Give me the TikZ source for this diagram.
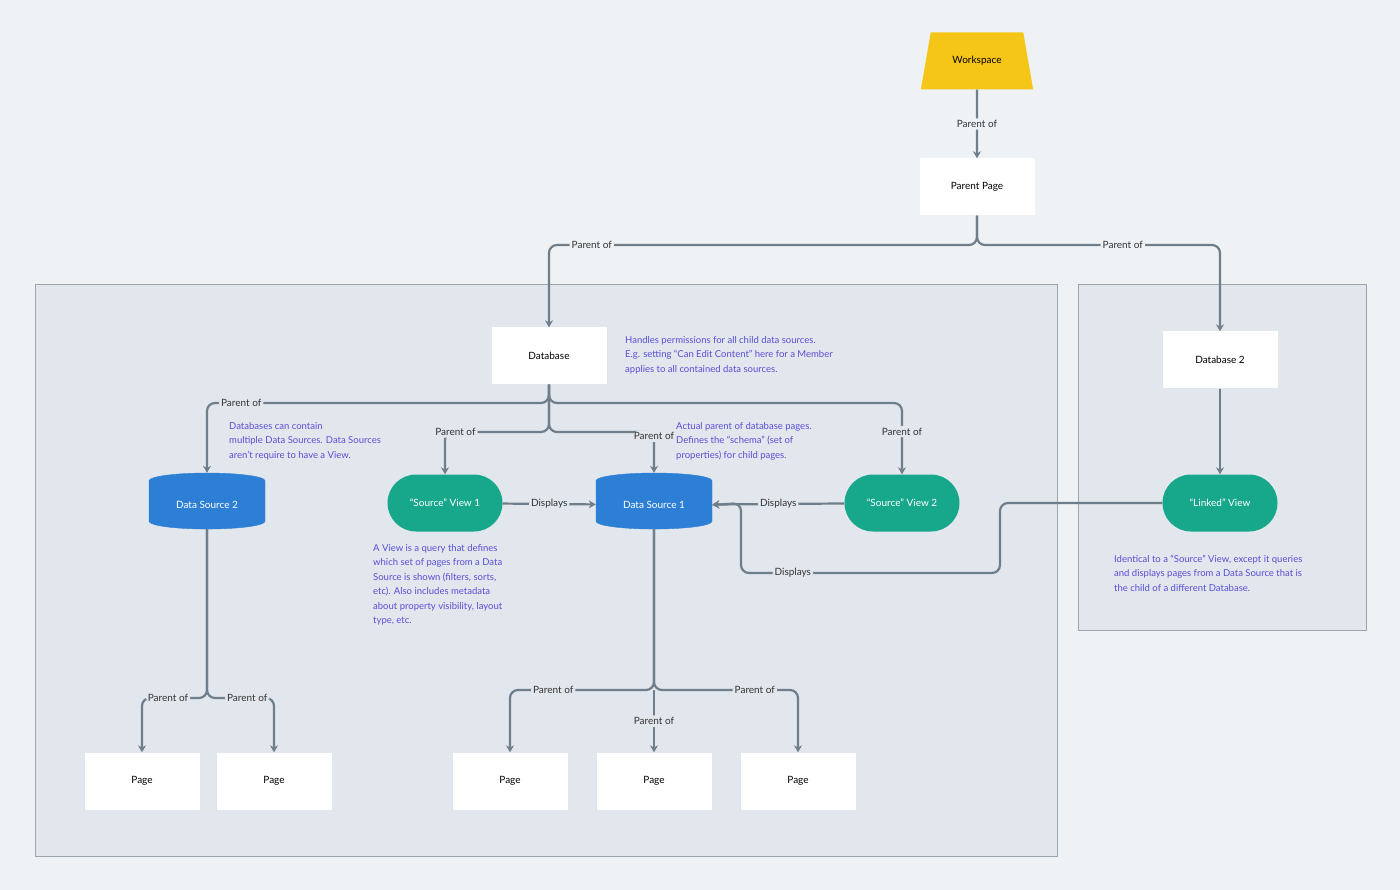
\documentclass[tikz,border=0pt]{standalone}
\usepackage{fontspec}
\setmainfont{Lato}
\usetikzlibrary{shapes.geometric,shapes.misc,arrows.meta}
\definecolor{bgcol}{HTML}{EEF2F5}
\definecolor{panelcol}{HTML}{E2E6ED}
\definecolor{linecol}{HTML}{6F7E8B}
\definecolor{noteblue}{HTML}{5A4FD6}
\definecolor{dsblue}{HTML}{2D7FD6}
\definecolor{viewteal}{HTML}{17A88C}
\definecolor{wsyellow}{HTML}{F5C518}
\tikzset{
  box/.style={draw=none,fill=white,minimum width=115pt,minimum height=57pt,inner sep=0pt,font=\fontsize{10}{12}\selectfont},
  store/.style={cylinder,shape border rotate=90,aspect=0.25,fill=dsblue,draw=dsblue,text=white,minimum width=116pt,minimum height=56pt,inner sep=0pt,font=\fontsize{10}{12}\selectfont},
  view/.style={rounded rectangle,fill=viewteal,text=white,minimum width=115pt,minimum height=57pt,inner sep=0pt,font=\fontsize{10}{12}\selectfont},
  link/.style={draw=linecol,line width=2.2pt,rounded corners=8pt,-{Stealth[length=7pt,width=8pt]}},
  plain/.style={draw=linecol,line width=2.2pt,rounded corners=8pt},
  lbl/.style={fill=panelcol,inner sep=2pt,font=\fontsize{10}{12}\selectfont,text=black!80},
  lblout/.style={lbl,fill=bgcol},
  note/.style={align=left,anchor=north west,inner sep=0pt,text=noteblue,font=\fontsize{9.5}{14.5}\selectfont},
  panel/.style={draw=linecol!70,line width=1pt,fill=panelcol}
}
\begin{document}
\begin{tikzpicture}[x=1pt,y=-1pt]
\fill[bgcol] (0,0) rectangle (1400,890);
\useasboundingbox (0,0) rectangle (1400,890);
% panels
\draw[panel] (35,285) rectangle (1057,856);
\draw[panel] (1078,285) rectangle (1366,630);
% top
\node[trapezium,trapezium stretches=true,fill=wsyellow,minimum width=113pt,minimum height=57pt,inner sep=0pt,font=\fontsize{10}{12}\selectfont] (ws) at (977,61) {Workspace};
\node[box] (pp) at (977,187) {Parent Page};
\node[box] (db) at (549,356) {Database};
\node[box] (db2) at (1220,360) {Database 2};
% data sources and views
\node[store] (ds2) at (207,505) {Data Source 2};
\node[store] (ds1) at (654,505) {Data Source 1};
\node[view] (sv1) at (445,503) {``Source'' View 1};
\node[view] (sv2) at (902,503) {``Source'' View 2};
\node[view] (lv) at (1220,503) {``Linked'' View};
% pages
\foreach \n/\x in {pa/142,pb/274,pc/510,pd/654,pe/798}
  \node[box] (\n) at (\x,781) {Page};
% branch points
\coordinate (ppj) at (977,245);
\coordinate (dbj) at (549,403);
\coordinate (dbk) at (549,432);
\coordinate (ds2j) at (207,698);
\coordinate (ds1j) at (654,690);
% connectors
\draw[link] (ws) -- node[lblout]{Parent of} (pp);
\draw[link] (pp.south) |- (ppj) -| node[lblout,pos=0.45]{Parent of} (db.north);
\draw[link] (pp.south) |- (ppj) -| node[lblout,pos=0.3]{Parent of} (db2.north);
\draw[link] (db.south) |- (dbj) -| node[lbl,pos=0.45]{Parent of} (ds2.north);
\draw[link] (db.south) |- (dbj) -| node[lbl,pos=0.7]{Parent of} (sv2.north);
\draw[link] (db.south) |- (dbk) -| node[lbl,pos=0.45]{Parent of} (sv1.north);
\draw[link] (db.south) |- (dbk) -| node[lbl,pos=0.55]{Parent of} (ds1.north);
\draw[link] (sv1) -- node[lbl]{Displays} (ds1);
\draw[link] (sv2) -- node[lbl]{Displays} (ds1);
\draw[link] (lv.west) -- (1000,503) -- (1000,573) -- node[lbl,pos=0.8]{Displays} (741,573) -- (741,503) -- (ds1.east);
\draw[link] (db2) -- (lv);
\draw[link] (ds2.south) |- (ds2j) -| node[lbl,pos=0.3]{Parent of} (pa.north);
\draw[link] (ds2.south) |- (ds2j) -| node[lbl,pos=0.3]{Parent of} (pb.north);
\draw[link] (ds1.south) |- (ds1j) -| node[lbl,pos=0.35]{Parent of} (pc.north);
\draw[link] (ds1.south) |- (ds1j) -| node[lbl,pos=0.35]{Parent of} (pe.north);
\draw[link] (ds1j) -- node[lbl]{Parent of} (pd.north);
% notes
\node[note] (n1) at (625,336) {Handles permissions for all child data sources.\\E.g. setting ``Can Edit Content'' here for a Member\\applies to all contained data sources.};
\node[note] (n2) at (229,422) {Databases can contain\\multiple Data Sources. Data Sources\\aren't require to have a View.};
\node[note] (n3) at (676,422) {Actual parent of database pages.\\Defines the ``schema'' (set of\\properties) for child pages.};
\node[note] (n4) at (373,544) {A View is a query that defines\\which set of pages from a Data\\Source is shown (filters, sorts,\\etc). Also includes metadata\\about property visibility, layout\\type, etc.};
\node[note] (n5) at (1114,555) {Identical to a ``Source'' View, except it queries\\and displays pages from a Data Source that is\\the child of a different Database.};
\end{tikzpicture}
\end{document}
